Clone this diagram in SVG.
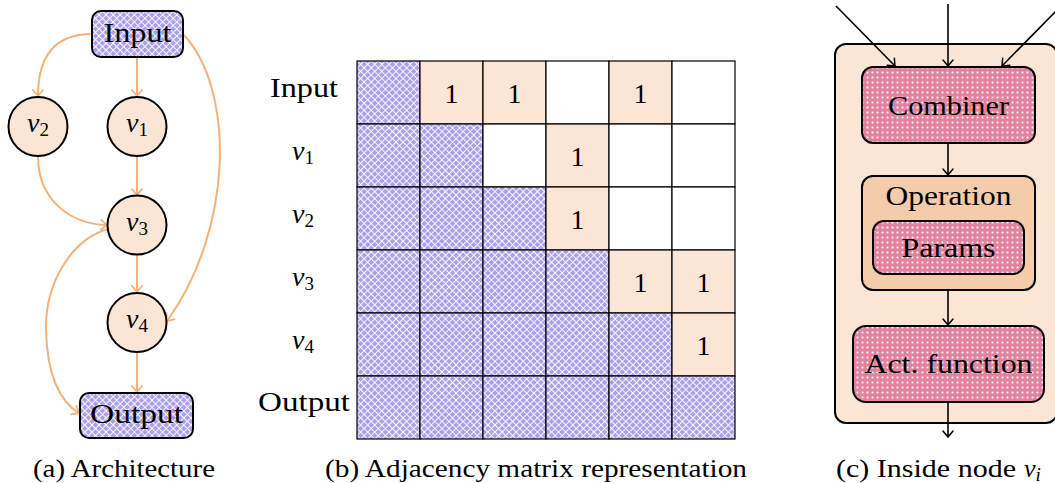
<svg xmlns="http://www.w3.org/2000/svg" width="1055" height="483" viewBox="0 0 1055 483" font-family="'Liberation Serif', 'DejaVu Serif', serif">
<style>
text{font-family:'Liberation Serif','DejaVu Serif',serif;fill:#000}
.lbl{font-size:28px}
.cap{font-size:26px}
.it{font-style:italic}
.sub{font-size:19px}
.num{font-size:28px;text-anchor:middle}
.mid{text-anchor:middle}
.o{fill:none;stroke:#f4b27a;stroke-width:2}
.k{fill:none;stroke:#000;stroke-width:1.6}
.cell{stroke:#000;stroke-width:1.2}
.h{fill:url(#hatch)}
.p{fill:#fbe6d5}
.w{fill:#fff}
.circ{fill:#fbe6d5;stroke:#000;stroke-width:2}
.box{fill:url(#hatch);stroke:#000;stroke-width:2}
.dot{fill:url(#dots);stroke:#000;stroke-width:2}
</style>
<defs>
<pattern id="hatch" patternUnits="userSpaceOnUse" width="5" height="5" patternTransform="rotate(45)">
<rect width="5" height="5" fill="#ad9fe9"/>
<path d="M0,0.5H5M0.5,0V5" stroke="#fff" stroke-width="1" stroke-opacity="0.9"/>
</pattern>
<pattern id="dots" patternUnits="userSpaceOnUse" width="5" height="5">
<rect width="5" height="5" fill="#e1829f"/>
<rect x="1.6" y="1.6" width="1.8" height="1.8" fill="#fff"/>
</pattern>
<marker id="ao" markerUnits="userSpaceOnUse" markerWidth="16" markerHeight="16" viewBox="-8 -8 16 16" refX="0" refY="0" orient="auto" overflow="visible">
<path d="M-6,-5 Q-1.5,-1.2 0,0 Q-1.5,1.2 -6,5" fill="none" stroke="#f4b27a" stroke-width="1.8" stroke-linecap="round"/>
</marker>
<marker id="ak" markerUnits="userSpaceOnUse" markerWidth="16" markerHeight="16" viewBox="-8 -8 16 16" refX="0" refY="0" orient="auto" overflow="visible">
<path d="M-6,-5 Q-1.5,-1.2 0,0 Q-1.5,1.2 -6,5" fill="none" stroke="#000" stroke-width="1.5" stroke-linecap="round"/>
</marker>
</defs>

<!-- (a) Architecture -->
<g id="connectors-a">
<path class="o" d="M92,34 C58,34 38,52 38,96" marker-end="url(#ao)"/>
<path class="o" d="M137,57 L137,96" marker-end="url(#ao)"/>
<path class="o" d="M137,156 L137,195" marker-end="url(#ao)"/>
<path class="o" d="M38,156 C38,200 70,224 107,225" marker-end="url(#ao)"/>
<path class="o" d="M183,34 C236,90 233,230 167,321" marker-end="url(#ao)"/>
<path class="o" d="M137,255 L137,292" marker-end="url(#ao)"/>
<path class="o" d="M137,353 L137,392" marker-end="url(#ao)"/>
<path class="o" d="M108,229 C70,240 45,285 46,330 C47,375 60,402 79,413" marker-end="url(#ao)"/>
</g>
<g id="node-input">
<rect class="box" x="92" y="11" width="91" height="46" rx="9"/>
<text class="lbl mid" x="137.5" y="42" textLength="68" lengthAdjust="spacingAndGlyphs">Input</text>
</g>
<g id="node-v2">
<circle class="circ" cx="38" cy="126.5" r="29.5"/>
<text class="lbl mid" x="38" y="132"><tspan class="it">v</tspan><tspan class="sub" dy="4">2</tspan></text>
</g>
<g id="node-v1">
<circle class="circ" cx="137" cy="126.5" r="29.5"/>
<text class="lbl mid" x="137" y="132"><tspan class="it">v</tspan><tspan class="sub" dy="4">1</tspan></text>
</g>
<g id="node-v3">
<circle class="circ" cx="137" cy="225" r="29.5"/>
<text class="lbl mid" x="137" y="230.5"><tspan class="it">v</tspan><tspan class="sub" dy="4">3</tspan></text>
</g>
<g id="node-v4">
<circle class="circ" cx="137" cy="322.5" r="29.5"/>
<text class="lbl mid" x="137" y="328"><tspan class="it">v</tspan><tspan class="sub" dy="4">4</tspan></text>
</g>
<g id="node-output">
<rect class="box" x="80" y="393" width="113" height="45" rx="9"/>
<text class="lbl mid" x="136.5" y="423" textLength="93" lengthAdjust="spacingAndGlyphs">Output</text>
</g>
<text class="cap mid" x="124" y="477" textLength="182" lengthAdjust="spacingAndGlyphs">(a) Architecture</text>

<!-- (b) Adjacency matrix -->
<g id="matrix">
<rect class="cell h" x="357" y="61" width="63" height="63"/>
<rect class="cell p" x="420" y="61" width="63" height="63"/>
<rect class="cell p" x="483" y="61" width="63" height="63"/>
<rect class="cell w" x="546" y="61" width="63" height="63"/>
<rect class="cell p" x="609" y="61" width="63" height="63"/>
<rect class="cell w" x="672" y="61" width="63" height="63"/>

<rect class="cell h" x="357" y="124" width="63" height="63"/>
<rect class="cell h" x="420" y="124" width="63" height="63"/>
<rect class="cell w" x="483" y="124" width="63" height="63"/>
<rect class="cell p" x="546" y="124" width="63" height="63"/>
<rect class="cell w" x="609" y="124" width="63" height="63"/>
<rect class="cell w" x="672" y="124" width="63" height="63"/>

<rect class="cell h" x="357" y="187" width="63" height="63"/>
<rect class="cell h" x="420" y="187" width="63" height="63"/>
<rect class="cell h" x="483" y="187" width="63" height="63"/>
<rect class="cell p" x="546" y="187" width="63" height="63"/>
<rect class="cell w" x="609" y="187" width="63" height="63"/>
<rect class="cell w" x="672" y="187" width="63" height="63"/>

<rect class="cell h" x="357" y="250" width="63" height="63"/>
<rect class="cell h" x="420" y="250" width="63" height="63"/>
<rect class="cell h" x="483" y="250" width="63" height="63"/>
<rect class="cell h" x="546" y="250" width="63" height="63"/>
<rect class="cell p" x="609" y="250" width="63" height="63"/>
<rect class="cell p" x="672" y="250" width="63" height="63"/>

<rect class="cell h" x="357" y="313" width="63" height="63"/>
<rect class="cell h" x="420" y="313" width="63" height="63"/>
<rect class="cell h" x="483" y="313" width="63" height="63"/>
<rect class="cell h" x="546" y="313" width="63" height="63"/>
<rect class="cell h" x="609" y="313" width="63" height="63"/>
<rect class="cell p" x="672" y="313" width="63" height="63"/>

<rect class="cell h" x="357" y="376" width="63" height="63"/>
<rect class="cell h" x="420" y="376" width="63" height="63"/>
<rect class="cell h" x="483" y="376" width="63" height="63"/>
<rect class="cell h" x="546" y="376" width="63" height="63"/>
<rect class="cell h" x="609" y="376" width="63" height="63"/>
<rect class="cell h" x="672" y="376" width="63" height="63"/>

<text class="num" x="451.5" y="102.5">1</text>
<text class="num" x="514.5" y="102.5">1</text>
<text class="num" x="640.5" y="102.5">1</text>
<text class="num" x="577.5" y="165.5">1</text>
<text class="num" x="577.5" y="228.5">1</text>
<text class="num" x="640.5" y="291.5">1</text>
<text class="num" x="703.5" y="291.5">1</text>
<text class="num" x="703.5" y="354.5">1</text>
</g>
<g id="row-labels">
<text class="lbl mid" x="304" y="97" textLength="68" lengthAdjust="spacingAndGlyphs">Input</text>
<text class="lbl mid" x="303" y="160"><tspan class="it">v</tspan><tspan class="sub" dy="4">1</tspan></text>
<text class="lbl mid" x="303" y="223"><tspan class="it">v</tspan><tspan class="sub" dy="4">2</tspan></text>
<text class="lbl mid" x="303" y="286"><tspan class="it">v</tspan><tspan class="sub" dy="4">3</tspan></text>
<text class="lbl mid" x="303" y="349"><tspan class="it">v</tspan><tspan class="sub" dy="4">4</tspan></text>
<text class="lbl mid" x="304" y="411" textLength="92" lengthAdjust="spacingAndGlyphs">Output</text>
</g>
<text class="cap mid" x="536" y="477" textLength="422" lengthAdjust="spacingAndGlyphs">(b) Adjacency matrix representation</text>

<!-- (c) Inside node -->
<g id="node-vi">
<rect x="835" y="44" width="222" height="379" rx="11" fill="#fbe6d5" stroke="#000" stroke-width="2"/>
</g>
<g id="node-combiner">
<rect class="dot" x="862" y="67" width="173" height="76" rx="11"/>
<text class="lbl mid" x="948.5" y="115" textLength="121" lengthAdjust="spacingAndGlyphs">Combiner</text>
</g>
<g id="node-operation">
<rect x="862" y="176" width="173" height="114" rx="11" fill="#f5ccaa" stroke="#000" stroke-width="2"/>
<text class="lbl mid" x="948.5" y="205" textLength="126" lengthAdjust="spacingAndGlyphs">Operation</text>
</g>
<g id="node-params">
<rect class="dot" x="873" y="221" width="151" height="53" rx="11"/>
<text class="lbl mid" x="948.5" y="257" textLength="94" lengthAdjust="spacingAndGlyphs">Params</text>
</g>
<g id="node-act">
<rect class="dot" x="853" y="326" width="191" height="76" rx="13"/>
<text class="lbl mid" x="948.5" y="373" textLength="168" lengthAdjust="spacingAndGlyphs">Act. function</text>
</g>
<g id="connectors-c">
<path class="k" d="M836,6 L895,66" marker-end="url(#ak)"/>
<path class="k" d="M948,4 L948,66" marker-end="url(#ak)"/>
<path class="k" d="M1061,6 L1002,66" marker-end="url(#ak)"/>
<path class="k" d="M948,143 L948,175" marker-end="url(#ak)"/>
<path class="k" d="M948,290 L948,325" marker-end="url(#ak)"/>
<path class="k" d="M948,402 L948,437" marker-end="url(#ak)"/>
</g>
<text class="cap" x="836" y="477" textLength="180" lengthAdjust="spacingAndGlyphs">(c) Inside node</text>
<text class="cap" x="1024" y="477"><tspan class="it">v</tspan><tspan class="sub it" dy="4" font-size="18">i</tspan></text>
</svg>
